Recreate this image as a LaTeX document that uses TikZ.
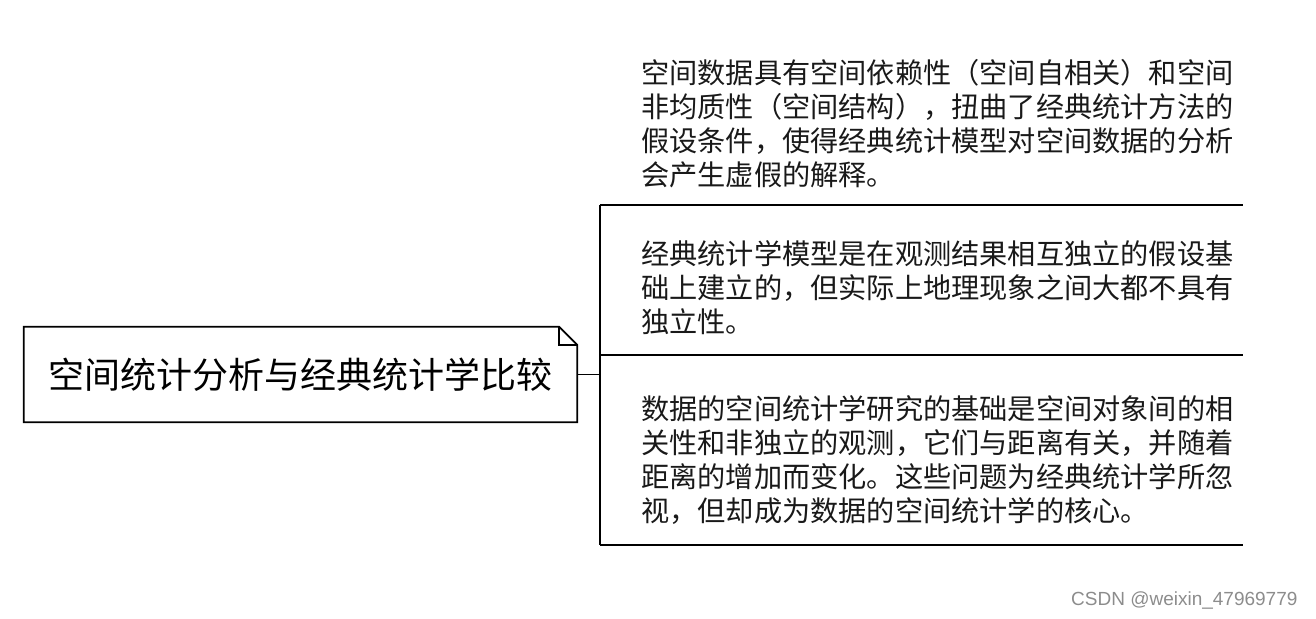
\documentclass[tikz,border=0pt]{standalone}
\usepackage{fontspec}
\setmainfont{Noto Sans CJK SC}
\newfontfamily\wmfont{Liberation Sans}
\usepackage{tikz}

\tikzset{
  rule/.style={line width=1.8pt, black},
  topic/.style={inner sep=0pt, minimum width=553pt, minimum height=95pt,
    font=\fontsize{36}{40}\selectfont},
  branch/.style={inner sep=0pt, anchor=north west, align=left, text width=600pt,
    font=\fontsize{28.2}{34}\selectfont, text=black!90},
  wmtext/.style={text=black!45, font=\wmfont\fontsize{19}{21}\selectfont},
}

\begin{document}
\begin{tikzpicture}[x=1pt, y=-1pt]
  \useasboundingbox (0,0) rectangle (1316,618);
  \node[topic] (root) at (300.5,374.5) {空间统计分析与经典统计学比较};
  \coordinate (bar1) at (600,205);
  \coordinate (bar2) at (600,355);
  \coordinate (bar3) at (600,545);
  \coordinate (end1) at (1243,205);
  \coordinate (end2) at (1243,355);
  \coordinate (end3) at (1243,545);
  \node[branch] (b1) at (641,59) {空间数据具有空间依赖性（空间自相关）和空间\\非均质性（空间结构），扭曲了经典统计方法的\\假设条件，使得经典统计模型对空间数据的分析\\会产生虚假的解释。};
  \node[branch] (b2) at (641,240) {经典统计学模型是在观测结果相互独立的假设基\\础上建立的，但实际上地理现象之间大都不具有\\独立性。};
  \node[branch] (b3) at (641,395) {数据的空间统计学研究的基础是空间对象间的相\\关性和非独立的观测，它们与距离有关，并随着\\距离的增加而变化。这些问题为经典统计学所忽\\视，但却成为数据的空间统计学的核心。};
  \node[wmtext, anchor=east] (wm) at (1301,600) {CSDN @weixin\_47969779};
  \draw[rule] (root.north west) -- ([xshift=-18pt]root.north east)
    -- ([yshift=-18pt]root.north east) -- (root.south east)
    -- (root.south west) -- cycle;
  \draw[rule] ([xshift=-18pt]root.north east) |- ([yshift=-18pt]root.north east);
  \draw[rule] (root.east) -- (root.east -| bar1);
  \draw[rule] (bar1) -- (bar3);
  \draw[rule] (bar1) -- (end1);
  \draw[rule] (bar2) -- (end2);
  \draw[rule] (bar3) -- (end3);
\end{tikzpicture}
\end{document}
